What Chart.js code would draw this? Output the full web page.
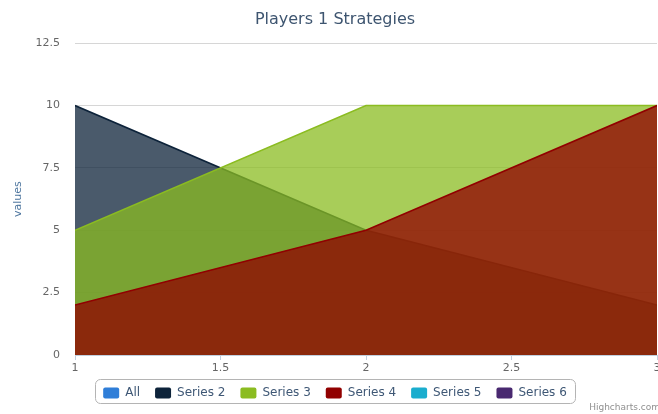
<!DOCTYPE html>
<html>
<head>
<meta charset="utf-8">
<script src="https://cdn.jsdelivr.net/npm/chart.js@4"></script>
<style>
  html, body { margin: 0; padding: 0; overflow: hidden; background: #fff; }
  #wrap { position: relative; width: 670px; height: 414px; }
</style>
</head>
<body>
<div id="wrap"><canvas id="strategies"></canvas></div>
<script>
// Strategy values per series, sampled at x = 1, 2, 3
const xValues = [1, 2, 3];
const allValues = [];
const series2 = [10, 5, 2];
const series3 = [5, 10, 10];
const series4 = [2, 5, 10];
const series5 = [];
const series6 = [];

const seriesNames = ['All', 'Series 2', 'Series 3', 'Series 4', 'Series 5', 'Series 6'];
const seriesData = [allValues, series2, series3, series4, series5, series6];

// old highcharts palette
const palette = ['#2f7ed8', '#0d233a', '#8bbc21', '#910000', '#1aadce', '#492970'];

const FONT = '"DejaVu Sans", Verdana, sans-serif';

function withAlpha(hex, a) {
    const n = parseInt(hex.slice(1), 16);
    return `rgba(${(n >> 16) & 255}, ${(n >> 8) & 255}, ${n & 255}, ${a})`;
}

const datasets = seriesNames.map((name, i) => ({
    label: name,
    data: seriesData[i].map((v, j) => ({ x: xValues[j], y: v })),
    borderColor: palette[i],
    backgroundColor: withAlpha(palette[i], 0.75),
    borderWidth: 1.5,
    pointRadius: 0,
    fill: 'origin',
    // later series sit on top
    order: seriesNames.length - i
}));

// legend frame + credits text
const extras = {
    id: 'extras',
    afterDraw(chart) {
        const ctx = chart.ctx;
        const boxes = chart.legend.legendHitBoxes;
        if (boxes && boxes.length) {
            const left = Math.min(...boxes.map(b => b.left)) - 8;
            const right = Math.max(...boxes.map(b => b.left + b.width)) + 8;
            const top = boxes[0].top - 8;
            ctx.save();
            ctx.strokeStyle = '#b4b4b4';
            ctx.lineWidth = 1;
            ctx.beginPath();
            ctx.roundRect(Math.round(left) + 0.5, Math.round(top) + 0.5, Math.round(right - left), 24, 5);
            ctx.stroke();
            ctx.restore();
        }
        ctx.save();
        ctx.font = '9px ' + FONT;
        ctx.fillStyle = '#909090';
        ctx.textAlign = 'right';
        ctx.textBaseline = 'alphabetic';
        ctx.fillText('Highcharts.com', chart.width - 10, chart.height - 4);
        ctx.restore();
    }
};

new Chart(document.getElementById('strategies'), {
    type: 'line',
    data: { datasets },
    plugins: [extras],
    options: {
        responsive: true,
        maintainAspectRatio: false,
        animation: false,
        layout: { padding: { left: 0, right: 0, top: 0, bottom: 5 } },
        plugins: {
            title: {
                display: true,
                text: 'Players 1 Strategies',
                color: '#3e5570',
                font: { family: FONT, size: 16, weight: 'normal' },
                padding: { top: 10, bottom: 14 }
            },
            legend: {
                position: 'bottom',
                labels: {
                    boxWidth: 16,
                    boxHeight: 11,
                    padding: 15,
                    color: '#3e5775',
                    font: { family: FONT, size: 12 },
                    useBorderRadius: true,
                    borderRadius: 2,
                    sort: (a, b) => a.datasetIndex - b.datasetIndex,
                    generateLabels: chart =>
                        Chart.defaults.plugins.legend.labels.generateLabels(chart).map(item => ({
                            ...item,
                            fillStyle: palette[item.datasetIndex],
                            strokeStyle: palette[item.datasetIndex],
                            lineWidth: 0
                        }))
                }
            },
            tooltip: { enabled: false }
        },
        scales: {
            x: {
                type: 'linear',
                min: 1,
                max: 3,
                border: { color: '#c0d0e0' },
                grid: { drawOnChartArea: false, color: '#c0d0e0', tickLength: 5 },
                ticks: {
                    stepSize: 0.5,
                    padding: 2,
                    color: '#666',
                    font: { family: FONT, size: 11 },
                    callback: v => String(v)
                },
                afterFit: scale => { scale.height = 17; }
            },
            y: {
                min: 0,
                max: 12.5,
                border: { display: false },
                grid: { color: '#d6d6d6', drawTicks: false },
                ticks: {
                    stepSize: 2.5,
                    padding: 15,
                    color: '#666',
                    font: { family: FONT, size: 11 },
                    callback: v => String(v)
                },
                title: {
                    display: true,
                    text: 'values',
                    color: '#4d759e',
                    font: { family: FONT, size: 11 },
                    padding: { top: 12, bottom: 0 }
                },
                afterFit: scale => { scale.width = 75; }
            },
            // empty strip on the right so the plot stops short of the canvas edge
            spacer: {
                type: 'linear',
                position: 'right',
                display: true,
                grid: { display: false },
                border: { display: false },
                ticks: { display: false },
                afterFit: scale => { scale.width = 13; }
            }
        }
    }
});
</script>
</body>
</html>
